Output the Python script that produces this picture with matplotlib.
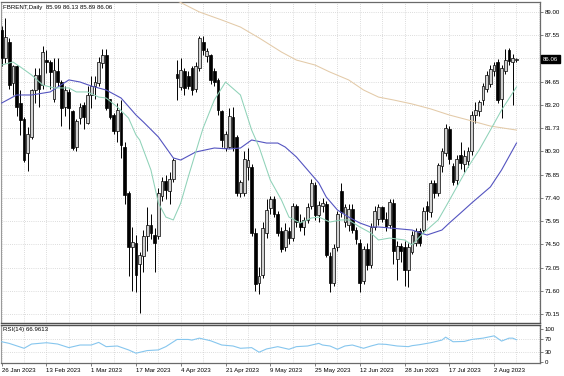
import matplotlib
matplotlib.use("Agg")
import matplotlib.pyplot as plt
import matplotlib.transforms as mtransforms
import numpy as np

W, H = 564, 376
plt.rcParams['font.family'] = ['Liberation Sans', 'DejaVu Sans']

title_text = "FBRENT,Daily  85.99 86.13 85.89 86.06"
rsi_text = "RSI(14) 66.9613"
last_price = 86.06

# ---- daily candles (bar 0 = 26 Jan 2023) ----
opens = [87.9, 86.1, 87.15, 84.55, 85.6, 83.3, 82.35, 80.2, 81.2, 84.1,
         85.05, 84.45, 86.0, 85.9, 83.6, 85.3, 84.65, 83.1, 84.0, 82.8,
         80.6, 82.4, 83.2, 82.1, 83.8, 84.35, 84.55, 85.8, 86.3, 83.55,
         82.55, 81.55, 82.7, 80.6, 77.7, 74.35, 74.6, 73.3, 73.75, 75.0,
         75.7, 75.1, 75.0, 77.5, 78.45, 77.8, 78.6, 85.1, 84.3, 85.3,
         85.0, 85.5, 84.2, 85.5, 87.15, 86.25, 86.3, 85.3, 84.75, 82.8,
         80.5, 80.6, 82.45, 81.2, 77.7, 77.7, 79.3, 79.35, 75.2, 72.1,
         72.6, 75.2, 76.75, 77.3, 76.4, 75.3, 74.3, 75.3, 74.9, 76.9,
         75.9, 75.6, 76.0, 76.9, 78.2, 76.3, 76.9, 77.0, 73.8, 72.1,
         74.3, 77.8, 75.9, 75.7, 76.7, 75.4, 74.6, 72.2, 74.2, 73.2,
         75.6, 76.1, 76.8, 76.1, 75.7, 77.05, 73.6, 74.4, 74.3, 72.9,
         74.0, 74.6, 75.3, 75.4, 76.9, 76.5, 78.3, 77.7, 79.4, 80.2,
         81.7, 79.4, 78.5, 80.1, 79.5, 79.7, 80.3, 82.6, 82.8, 83.5,
         84.2, 84.5, 85.3, 85.9, 83.6, 85.3, 86.6, 85.85, 85.99]
highs = [88.1, 88.6, 87.4, 85.7, 85.7, 84.1, 82.45, 81.8, 84.2, 85.5,
         85.5, 86.9, 86.6, 86.0, 86.1, 86.1, 84.75, 84.4, 84.2, 82.9,
         82.3, 83.3, 83.4, 84.4, 85.0, 85.0, 86.2, 86.7, 86.7, 83.6,
         82.7, 83.3, 83.5, 80.9, 77.8, 75.6, 75.1, 74.0, 75.4, 76.8,
         76.4, 75.5, 78.0, 78.7, 78.8, 79.0, 79.9, 86.0, 86.1, 85.5,
         85.3, 85.6, 85.9, 87.5, 87.5, 86.75, 86.4, 85.5, 84.9, 82.9,
         81.6, 83.0, 83.1, 81.3, 78.5, 80.3, 80.5, 79.5, 75.5, 73.1,
         75.9, 77.3, 77.5, 77.5, 76.6, 75.6, 75.8, 75.6, 77.1, 77.0,
         76.4, 76.2, 77.1, 78.6, 78.4, 77.2, 77.4, 77.2, 74.0, 74.5,
         76.6, 78.3, 77.0, 77.0, 77.0, 75.6, 74.8, 74.4, 74.6, 75.8,
         76.9, 77.0, 76.9, 76.5, 77.3, 77.3, 74.7, 74.6, 74.7, 74.6,
         75.3, 75.5, 75.5, 76.85, 77.2, 78.5, 78.5, 79.6, 80.5, 82.0,
         81.9, 79.6, 80.1, 80.9, 80.4, 80.6, 82.8, 83.4, 83.5, 84.55,
         85.3, 85.7, 85.9, 86.05, 85.7, 86.7, 86.75, 86.4, 86.13]
lows = [85.6, 85.8, 84.2, 83.8, 82.5, 81.3, 79.65, 79.1, 81.1, 83.3,
        83.1, 84.2, 85.2, 84.2, 83.4, 84.4, 81.9, 82.5, 81.7, 80.4,
        80.3, 82.0, 81.7, 82.0, 83.0, 83.6, 84.4, 85.5, 82.9, 82.35,
        81.4, 80.9, 79.9, 77.0, 72.5, 71.6, 71.5, 70.2, 72.8, 74.1,
        74.8, 72.8, 74.8, 77.2, 77.3, 77.0, 78.4, 83.5, 84.1, 83.8,
        84.2, 83.8, 84.0, 85.3, 86.3, 85.9, 84.5, 84.4, 82.6, 80.6,
        80.3, 80.5, 80.3, 77.5, 77.45, 77.5, 78.5, 75.0, 71.6, 71.4,
        72.4, 74.9, 76.4, 76.2, 75.0, 74.0, 74.1, 74.5, 74.7, 75.6,
        75.3, 75.1, 75.8, 76.7, 76.0, 75.9, 76.5, 73.7, 71.5, 71.9,
        74.1, 76.2, 75.6, 75.3, 75.2, 74.5, 71.5, 72.0, 72.9, 73.0,
        75.4, 75.7, 75.9, 75.3, 75.5, 73.3, 72.3, 73.4, 71.9, 71.85,
        73.9, 74.4, 74.4, 75.2, 76.0, 76.2, 77.4, 77.5, 79.0, 80.0,
        79.5, 78.2, 78.2, 79.2, 79.0, 79.3, 80.1, 82.1, 82.5, 83.2,
        84.0, 84.3, 85.0, 83.3, 82.4, 85.1, 85.7, 83.2, 85.89]
closes = [86.1, 87.45, 84.45, 85.6, 83.1, 82.25, 79.75, 81.4, 84.1, 85.05,
          84.2, 86.5, 85.85, 85.25, 85.4, 84.65, 83.0, 84.1, 83.0, 80.5,
          82.2, 83.1, 82.45, 83.85, 84.4, 84.6, 85.9, 86.3, 83.0, 82.45,
          81.55, 82.9, 80.7, 77.6, 74.35, 74.65, 72.6, 73.85, 75.0, 75.7,
          75.2, 74.6, 77.7, 78.45, 77.9, 78.6, 79.75, 84.9, 85.4, 84.25,
          84.4, 84.15, 85.6, 87.35, 86.6, 86.55, 84.75, 84.65, 82.9, 81.0,
          81.4, 82.5, 80.6, 77.7, 78.4, 79.8, 79.75, 75.2, 72.05, 72.5,
          75.5, 76.65, 77.35, 76.4, 75.2, 74.2, 75.4, 74.9, 76.9, 75.9,
          75.6, 76.0, 76.85, 78.3, 76.3, 76.95, 77.1, 73.85, 72.1, 74.25,
          76.4, 76.5, 76.8, 76.7, 75.4, 74.8, 72.1, 74.2, 73.2, 75.6,
          76.6, 76.8, 76.1, 75.6, 77.15, 74.1, 74.4, 74.1, 72.9, 74.35,
          75.1, 75.3, 74.6, 76.6, 76.6, 78.3, 77.7, 79.45, 80.3, 81.75,
          79.8, 78.4, 79.8, 79.6, 80.0, 80.3, 82.6, 82.9, 83.4, 84.35,
          85.05, 85.45, 85.7, 83.5, 85.5, 86.0, 85.95, 86.15, 86.06]

# ---- moving averages: (bar, value) ----
ma_fast_bars = [0, 3, 5, 8, 11, 14, 18, 20, 23, 26, 28, 31, 34, 36, 37, 40, 42, 44, 46, 48,
                50, 53, 54, 57, 60, 64, 67, 69, 72, 75, 77, 80, 83, 85, 88, 91, 93, 96, 99,
                101, 104, 108, 110, 113, 117, 119, 122, 125, 128, 131, 134, 138]
ma_fast_vals = [85.69, 85.88, 85.57, 85.07, 84.44, 84.26, 84.26, 84.01, 84.01, 83.69, 83.63,
                83.07, 82.38, 81.32, 81.01, 79.14, 77.08, 76.20, 76.02, 77.08, 78.70, 81.01,
                81.76, 83.51, 84.63, 83.82, 81.63, 80.57, 78.51, 77.26, 76.20, 75.83, 76.14,
                76.20, 75.89, 76.02, 76.02, 75.58, 75.20, 74.77, 74.89, 74.77, 74.46, 75.20,
                76.02, 76.83, 78.08, 79.32, 80.39, 81.63, 82.88, 84.32]
ma_mid_bars = [0, 4, 8, 13, 18, 21, 24, 28, 32, 36, 38, 42, 46, 48, 52, 57, 61, 64, 67, 71,
               74, 76, 79, 82, 85, 87, 90, 93, 96, 99, 101, 104, 110, 114, 118, 120, 123,
               126, 131, 134, 138]
ma_mid_vals = [83.32, 83.82, 83.82, 84.01, 84.76, 84.63, 84.38, 84.13, 83.63, 82.57, 82.13,
               81.20, 79.89, 79.76, 80.26, 80.51, 80.45, 80.51, 81.01, 80.82, 80.82, 80.57,
               79.95, 79.14, 78.33, 77.45, 76.64, 76.20, 75.83, 75.58, 75.58, 75.52, 75.39,
               75.08, 75.39, 75.83, 76.45, 77.08, 78.08, 79.14, 80.82]
ma_slow_bars = [45, 53, 59, 64, 69, 75, 79, 84, 88, 93, 97, 101, 105, 110, 115, 120, 126, 131, 138]
ma_slow_vals = [89.94, 89.00, 88.50, 88.06, 87.38, 86.50, 86.00, 85.69, 85.25, 84.76, 84.13,
                83.69, 83.51, 83.26, 82.95, 82.57, 82.20, 81.88, 81.63]

# ---- RSI(14) ----
rsi_bars = [0, 2, 6, 8, 12, 15, 18, 21, 24, 26, 28, 31, 34, 36, 39, 42, 44, 47, 50, 51, 53,
            56, 59, 62, 64, 67, 69, 71, 74, 77, 79, 82, 85, 86, 88, 90, 92, 94, 97, 99, 101,
            103, 106, 109, 110, 112, 115, 118, 119, 121, 124, 126, 129, 132, 134, 136, 137, 138]
rsi_vals = [61, 56, 41, 54, 58, 54, 43, 51, 51, 59, 46, 48, 36, 26, 34, 36, 46, 68, 68, 66, 72,
            64, 51, 48, 41, 43, 29, 39, 46, 38, 46, 48, 56, 51, 48, 38, 48, 51, 41, 48, 54,
            53, 48, 46, 49, 52, 58, 66, 75, 61, 62, 68, 72, 79, 63, 72, 72, 67]

# ---- axes labels ----
date_labels = ["26 Jan 2023", "13 Feb 2023", "1 Mar 2023", "17 Mar 2023", "4 Apr 2023",
               "21 Apr 2023", "9 May 2023", "25 May 2023", "12 Jun 2023", "28 Jun 2023",
               "17 Jul 2023", "2 Aug 2023"]
date_bars = [0, 12, 24, 36, 48, 60, 72, 84, 96, 108, 120, 132]
price_ticks = [89.00, 87.55, 86.10, 84.65, 83.20, 81.75, 80.30, 78.85, 77.40, 75.95,
               74.50, 73.05, 71.60, 70.15]
price_labels = ["89.00", "87.55", "", "84.65", "83.20", "81.73", "80.30", "78.85", "77.40",
                "75.95", "74.50", "73.05", "71.60", "70.15"]
rsi_ticks = [100, 70, 30, 0]
rsi_labels = ["100", "70", "30", "0"]

FS = 4.4
SPINE = '#6a6a6a'
GRID = '#c8c8c8'

fig = plt.figure(figsize=(W / 100, H / 100), dpi=100)
fig.patch.set_facecolor('white')


def rect(l, t, r, b):
    return [l / W, 1 - b / H, (r - l) / W, (b - t) / H]


ax = fig.add_axes(rect(1, 2, 540, 323))
axr = fig.add_axes(rect(1, 325, 540, 363))

xlim = (-0.19, 144.3)
for a in (ax, axr):
    a.set_xlim(*xlim)
    a.set_facecolor('white')
    for s in a.spines.values():
        s.set_color(SPINE)
        s.set_linewidth(0.9)
    a.spines['left'].set_linewidth(0.8)
    a.spines['left'].set_color('#9a9a9a')
    for k in range(0, 145, 6):
        a.axvline(k, color=GRID, lw=0.55, ls=(0, (1, 1.8)), zorder=0)

ax.spines['bottom'].set_linewidth(1.0)
ax.spines['bottom'].set_color('#505050')
axr.spines['top'].set_linewidth(1.0)
axr.spines['top'].set_color('#505050')

# main panel
ax.set_ylim(69.587, 89.624)
for p in price_ticks:
    ax.axhline(p, color=GRID, lw=0.55, ls=(0, (1, 1.8)), zorder=0)

o = np.array(opens); hi = np.array(highs); lo = np.array(lows); c = np.array(closes)
xb = np.arange(len(c))
bull = c >= o
ax.vlines(xb, lo, hi, colors='black', lw=0.7, zorder=2)
bottoms = np.minimum(o, c)
heights = np.maximum(np.abs(c - o), 0.04)
ax.bar(xb[bull], heights[bull], bottom=bottoms[bull], width=0.74, color='#d2d2d2',
       edgecolor='black', linewidth=0.5, zorder=3)
ax.bar(xb[~bull], heights[~bull], bottom=bottoms[~bull], width=0.74, color='black',
       edgecolor='black', linewidth=0.5, zorder=3)

ax.plot(ma_slow_bars, ma_slow_vals, color='#e3caa8', lw=0.75, zorder=4)
ax.plot(ma_mid_bars, ma_mid_vals, color='#5454c0', lw=0.8, zorder=4)
ax.plot(ma_fast_bars, ma_fast_vals, color='#8fd2b8', lw=0.75, zorder=4)

ax.yaxis.tick_right()
ax.set_yticks(price_ticks)
ax.set_yticklabels(price_labels)
ax.tick_params(axis='y', length=2, width=0.6, color=SPINE, pad=1.5, labelsize=FS,
               labelcolor='black')
ax.set_xticks([])

ax.text(2 / 539, 1 - 5 / 321, title_text, transform=ax.transAxes, ha='left', va='center',
        fontsize=FS, color='black', zorder=6)

trans = mtransforms.blended_transform_factory(ax.transAxes, ax.transData)
ax.text(1.0 + 3 / 539, last_price, f"{last_price:.2f}", transform=trans, ha='left',
        va='center', fontsize=FS, color='white', clip_on=False,
        bbox=dict(boxstyle='square,pad=0.25', fc='black', ec='black'))

# RSI panel
axr.set_ylim(-4.0, 112.2)
for lev in (70, 30):
    axr.axhline(lev, color=GRID, lw=0.55, ls=(0, (1, 1.8)), zorder=0)
axr.plot(rsi_bars, rsi_vals, color='#86c6ee', lw=0.8, zorder=3)
axr.yaxis.tick_right()
axr.set_yticks(rsi_ticks)
axr.set_yticklabels(rsi_labels)
axr.tick_params(axis='y', length=2, width=0.6, color=SPINE, pad=1.5, labelsize=FS)
axr.set_xticks(date_bars)
axr.set_xticklabels(date_labels, ha='left')
axr.tick_params(axis='x', length=2, width=0.6, color=SPINE, pad=1.5, labelsize=FS)
axr.text(2 / 539, 1 - 5 / 38, rsi_text, transform=axr.transAxes, ha='left', va='center',
         fontsize=FS, color='black')

fig.savefig("out.png", dpi=100)
